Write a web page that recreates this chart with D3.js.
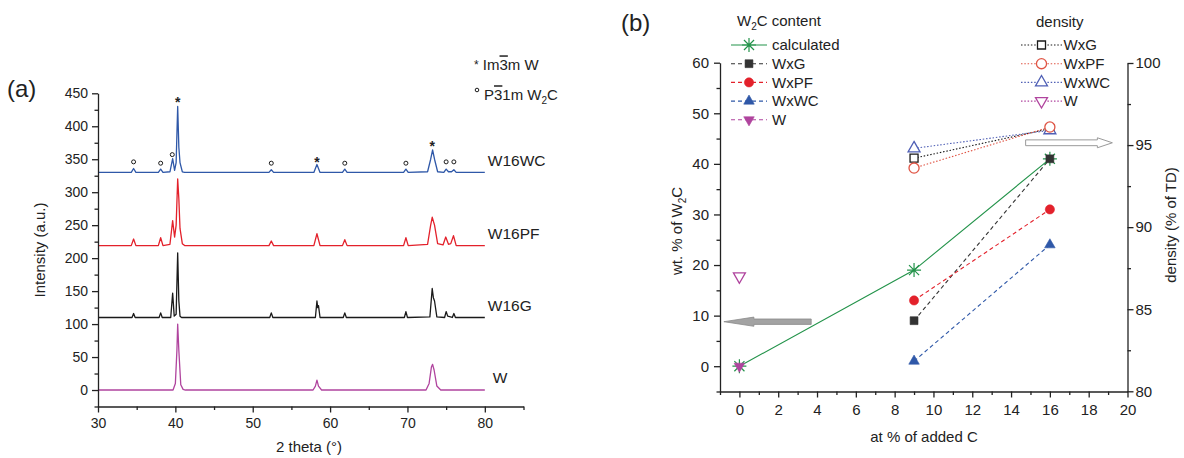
<!DOCTYPE html>
<html>
<head>
<meta charset="utf-8">
<script src="https://cdn.jsdelivr.net/npm/d3@7"></script>
<style>
  body { margin: 0; background: #fff; }
  svg { font-family: Arial, "Liberation Sans", Helvetica, sans-serif; fill: #222; }
  .axis path, .axis line { stroke: #222; stroke-width: 1.3; }
  .axis text { fill: #222; }
</style>
</head>
<body>
<div id="wrapper"></div>
<script>
// DATA (a) - XRD vertices [2 theta, intensity]
const xrdW16WC = [
  [30, 330], [34.3, 330], [34.6, 336], [34.9, 330], [37.8, 330], [38.1, 335], [38.4, 330],
  [39.3, 331], [39.65, 351], [39.9, 333], [40.1, 345], [40.3, 430], [40.45, 368], [40.6, 345],
  [40.9, 331], [41.2, 330], [52.1, 330], [52.4, 334], [52.7, 330], [57.9, 330], [58.3, 342],
  [58.7, 330], [61.6, 330], [61.9, 335], [62.2, 330], [69.5, 330], [69.8, 335], [70.1, 330],
  [72.6, 331], [73.0, 350], [73.25, 364], [73.5, 350], [73.9, 331], [74.7, 330], [75.0, 335],
  [75.3, 331], [75.7, 331], [76.0, 334], [76.3, 330], [80, 330]
];
const xrdW16PF = [
  [30, 219], [34.3, 219], [34.6, 229], [34.9, 219], [37.8, 219], [38.1, 231], [38.4, 219],
  [39.3, 221], [39.65, 257], [39.9, 232], [40.1, 250], [40.3, 320], [40.45, 290], [40.6, 245],
  [40.9, 222], [41.2, 219], [52.1, 219], [52.4, 226], [52.7, 219], [57.9, 219], [58.3, 237],
  [58.7, 219], [61.6, 219], [61.9, 228], [62.2, 219], [69.5, 219], [69.8, 231], [70.1, 219],
  [72.6, 221], [73.0, 250], [73.2, 262], [73.5, 250], [73.9, 222], [74.6, 220], [74.95, 232],
  [75.3, 221], [75.6, 222], [75.95, 234], [76.3, 219], [80, 219]
];
const xrdW16G = [
  [30, 110], [34.4, 110], [34.6, 116], [34.8, 110], [37.9, 110], [38.1, 117], [38.3, 110],
  [39.4, 110], [39.65, 147], [39.85, 112], [40.1, 115], [40.3, 208], [40.45, 135], [40.6, 112],
  [40.8, 110], [52.2, 110], [52.4, 117], [52.6, 110], [58.1, 110], [58.3, 135], [58.4, 125],
  [58.5, 128], [58.7, 110], [61.7, 110], [61.9, 117], [62.1, 110], [69.6, 110], [69.8, 119],
  [70.0, 110], [72.9, 111], [73.2, 154], [73.35, 140], [73.5, 135], [73.8, 111], [74.8, 110],
  [75.0, 119], [75.2, 112], [75.8, 110], [76.0, 116], [76.2, 110], [80, 110]
];
const xrdW = [
  [30, 0], [39.7, 0], [40.0, 10], [40.2, 60], [40.3, 100], [40.45, 60], [40.7, 8], [41.0, 1],
  [41.3, 0], [57.8, 0], [58.1, 6], [58.3, 15], [58.5, 6], [58.9, 0], [72.4, 0], [72.8, 10],
  [73.1, 35], [73.25, 39], [73.45, 30], [73.8, 6], [74.3, 0], [80, 0]
];
const xrdNames = [`W16WC`, `W16PF`, `W16G`, `W`];
const xrdBaselines = [330, 219, 110, 0];

// phase marks above peaks [2 theta, intensity]
const peaksW = [[40.3, 443], [58.3, 352], [73.2, 375]];
const peaksW2C = [[34.6, 346], [38.1, 344], [39.6, 357], [52.4, 344], [61.9, 344], [69.8, 344], [75.0, 346], [76.0, 346]];

const xTicksA = [30, 40, 50, 60, 70, 80];
const xMinorA = [35, 45, 55, 65, 75, 85];
const yTicksA = [0, 50, 100, 150, 200, 250, 300, 350, 400, 450];
const yMinorA = [-25, 25, 75, 125, 175, 225, 275, 325, 375, 425];

// DATA (b)
const addedC = [0, 9, 16];
const addedCWx = [9, 16];
const addedCW = [0];
const wtCalculated = [0, 19, 41];
const wtWxG = [9, 41];
const wtWxPF = [13, 31];
const wtWxWC = [1, 24];
const wtW = [0];
const densWxG = [94.2, 96.0];
const densWxPF = [93.6, 96.1];
const densWxWC = [94.8, 95.9];
const densW = [87.0];

const xTicksB = [0, 2, 4, 6, 8, 10, 12, 14, 16, 18, 20];
const xMinorB = [-1, 1, 3, 5, 7, 9, 11, 13, 15, 17, 19];
const yTicksBL = [0, 10, 20, 30, 40, 50, 60];
const yMinorBL = [-5, 5, 15, 25, 35, 45, 55];
const yTicksBR = [80, 85, 90, 95, 100];
const yMinorBR = [82.5, 87.5, 92.5, 97.5];

// COLORS
const C_BLUE = `#2f58a8`;
const C_RED = `#e3212b`;
const C_BLACK = `#1a1a1a`;
const C_MAGENTA = `#b0449e`;
const C_GREEN = `#23934a`;
const C_BLUE_OPEN = `#4f5fb5`;
const C_RED_OPEN = `#e05545`;
const xrdColors = [C_BLUE, C_RED, C_BLACK, C_MAGENTA];

// SVG
const svg = d3.select(`#wrapper`)
  .append(`svg`)
  .attr(`width`, 1184)
  .attr(`height`, 458);

// UTILS
const sub2 = (sel, before, after, small = 10) => {
  sel.append(`tspan`).text(before);
  sel.append(`tspan`).attr(`dy`, 4).attr(`font-size`, small).text(`2`);
  sel.append(`tspan`).attr(`dy`, -4).text(after);
};

const drawAxis = (g, axisFn, scale, major, minor, fontSize, pad) => {
  g.append(`g`).attr(`class`, `axis`)
    .call(axisFn(scale).tickValues(minor).tickSize(3.5).tickSizeOuter(0).tickFormat(``))
    .call(a => a.select(`.domain`).remove());
  g.append(`g`).attr(`class`, `axis`)
    .call(axisFn(scale).tickValues(major).tickSize(6).tickSizeOuter(0).tickPadding(pad))
    .call(a => a.selectAll(`.tick text`).attr(`font-size`, fontSize).attr(`font-family`, null));
};

const starPath = r => {
  const d = r * 0.72;
  return `M${-r},0L${r},0M0,${-r}L0,${r}M${-d},${-d}L${d},${d}M${-d},${d}L${d},${-d}`;
};

const markerPath = type => {
  if (type === `square`) return d3.symbol().type(d3.symbolSquare).size(62)();
  if (type === `circle`) return d3.symbol().type(d3.symbolCircle).size(66)();
  if (type === `triUp` || type === `triDown`) return d3.symbol().type(d3.symbolTriangle).size(48)();
  if (type === `oSquare`) return d3.symbol().type(d3.symbolSquare).size(64)();
  if (type === `oCircle`) return d3.symbol().type(d3.symbolCircle).size(80)();
  if (type === `oTriUp` || type === `oTriDown`) return d3.symbol().type(d3.symbolTriangle).size(62)();
  return starPath(7);
};

const drawMarker = (g, x, y, type, color) => {
  const open = type.startsWith(`o`);
  const isStar = type === `star`;
  const rot = type.endsWith(`Down`) ? ` rotate(180)` : ``;
  g.append(`path`)
    .attr(`d`, markerPath(type))
    .attr(`transform`, `translate(${x},${y})${rot}`)
    .attr(`fill`, open || isStar ? (open ? `#fff` : `none`) : color)
    .attr(`stroke`, color)
    .attr(`stroke-width`, isStar ? 1.2 : (open ? 1.3 : 0.6));
};

// ================= PANEL (a) =================
const xA = d3.scaleLinear().domain([30, 85]).range([98, 523.5]);
const yA = d3.scaleLinear().domain([-25, 450]).range([406.5, 93.3]);
const gA = svg.append(`g`);

const lineA = d3.line().x(d => xA(d[0])).y(d => yA(d[1]));
[xrdW16WC, xrdW16PF, xrdW16G, xrdW].forEach((pts, i) => {
  gA.append(`path`)
    .attr(`d`, lineA(pts))
    .attr(`fill`, `none`)
    .attr(`stroke`, xrdColors[i])
    .attr(`stroke-width`, 1.3)
    .attr(`stroke-linejoin`, `round`);
  gA.append(`text`)
    .attr(`x`, xA(80) + (i === 3 ? 8 : 3))
    .attr(`y`, yA(xrdBaselines[i]) - 12)
    .attr(`dy`, `0.35em`)
    .attr(`font-size`, 15.5)
    .text(xrdNames[i]);
});

gA.selectAll(`.peakW`).data(peaksW).enter()
  .append(`text`)
  .attr(`x`, d => xA(d[0]))
  .attr(`y`, d => yA(d[1]))
  .attr(`dy`, `0.62em`)
  .attr(`text-anchor`, `middle`)
  .attr(`font-size`, 14)
  .attr(`font-weight`, `bold`)
  .text(`*`);

gA.selectAll(`.peakW2C`).data(peaksW2C).enter()
  .append(`circle`)
  .attr(`cx`, d => xA(d[0]))
  .attr(`cy`, d => yA(d[1]))
  .attr(`r`, 2)
  .attr(`fill`, `none`)
  .attr(`stroke`, C_BLACK)
  .attr(`stroke-width`, 1);

drawAxis(gA.append(`g`).attr(`transform`, `translate(0,${yA(-25)})`), d3.axisBottom, xA, xTicksA, xMinorA, 14, 6);
drawAxis(gA.append(`g`).attr(`transform`, `translate(${xA(30)},0)`), d3.axisLeft, yA, yTicksA, yMinorA, 14, 4);

gA.append(`text`)
  .attr(`transform`, `translate(40,250) rotate(-90)`)
  .attr(`text-anchor`, `middle`).attr(`dy`, `0.35em`)
  .attr(`font-size`, 15)
  .text(`Intensity (a.u.)`);

gA.append(`text`)
  .attr(`x`, 309).attr(`y`, 447).attr(`dy`, `0.35em`)
  .attr(`text-anchor`, `middle`)
  .attr(`font-size`, 15)
  .text(`2 theta (°)`);

gA.append(`text`).attr(`x`, 7).attr(`y`, 89).attr(`dy`, `0.35em`).attr(`font-size`, 24).text(`(a)`);

// phase legend
const legA1 = gA.append(`text`).attr(`x`, 474).attr(`y`, 70).attr(`dy`, `0.35em`).attr(`font-size`, 15);
legA1.append(`tspan`).attr(`font-size`, 12).attr(`dy`, `-0.1em`).text(`*`);
legA1.append(`tspan`).attr(`dy`, `0.1em`).text(` Im`);
legA1.append(`tspan`).attr(`text-decoration`, `overline`).text(`3`);
legA1.append(`tspan`).text(`m W`);

gA.append(`circle`).attr(`cx`, 477).attr(`cy`, 90).attr(`r`, 1.8).attr(`fill`, `none`).attr(`stroke`, C_BLACK);
const legA2 = gA.append(`text`).attr(`x`, 484).attr(`y`, 95).attr(`dy`, `0.35em`).attr(`font-size`, 15);
legA2.append(`tspan`).text(`P`);
legA2.append(`tspan`).attr(`text-decoration`, `overline`).text(`3`);
sub2(legA2, `1m W`, `C`);

// ================= PANEL (b) =================
const xB = d3.scaleLinear().domain([-1, 20]).range([720, 1127.5]);
const yBL = d3.scaleLinear().domain([-5, 60]).range([391.5, 62.7]);
const yBR = d3.scaleLinear().domain([80, 100]).range([391.3, 63]);
const gB = svg.append(`g`);

drawAxis(gB.append(`g`).attr(`transform`, `translate(0,${yBL(-5)})`), d3.axisBottom, xB, xTicksB, xMinorB, 15, 7);
drawAxis(gB.append(`g`).attr(`transform`, `translate(${xB(-1)},0)`), d3.axisLeft, yBL, yTicksBL, yMinorBL, 15, 5);
drawAxis(gB.append(`g`).attr(`transform`, `translate(${xB(20)},0)`), d3.axisRight, yBR, yTicksBR, yMinorBR, 15, 2);

// arrows pointing at the axis each group belongs to
const leftTip = xB(-0.8), leftTail = xB(3.7), leftY = yBL(8.8);
gB.append(`path`)
  .attr(`d`, `M${leftTip},${leftY}L${leftTip + 30},${leftY - 4.6}L${leftTip + 30},${leftY - 2.7}L${leftTail},${leftY - 2.7}L${leftTail},${leftY + 2.7}L${leftTip + 30},${leftY + 2.7}L${leftTip + 30},${leftY + 4.6}Z`)
  .attr(`fill`, `#a3a3a3`).attr(`stroke`, `#8a8a8a`).attr(`stroke-width`, 0.8);

const rightTail = xB(14.75), rightTip = xB(19.22), rightY = yBR(95.14);
gB.append(`path`)
  .attr(`d`, `M${rightTip},${rightY}L${rightTip - 15},${rightY - 5}L${rightTip - 15},${rightY - 2.9}L${rightTail},${rightY - 2.9}L${rightTail},${rightY + 2.9}L${rightTip - 15},${rightY + 2.9}L${rightTip - 15},${rightY + 5}Z`)
  .attr(`fill`, `#fff`).attr(`stroke`, `#9a9a9a`).attr(`stroke-width`, 1);

const lineB = (xs, ys, yScale) => d3.line().x((d, i) => xB(xs[i])).y(d => yScale(d))(ys);

const seriesB = [
  { xs: addedCWx, ys: densWxG, scale: yBR, color: C_BLACK, dash: `1.5,1.8`, marker: `oSquare` },
  { xs: addedCWx, ys: densWxWC, scale: yBR, color: C_BLUE_OPEN, dash: `1.5,1.8`, marker: `oTriUp` },
  { xs: addedCWx, ys: densWxPF, scale: yBR, color: C_RED_OPEN, dash: `1.5,1.8`, marker: `oCircle` },
  { xs: addedCW, ys: densW, scale: yBR, color: C_MAGENTA, dash: `1.5,1.8`, marker: `oTriDown` },
  { xs: addedC, ys: wtCalculated, scale: yBL, color: C_GREEN, dash: null, marker: `star` },
  { xs: addedCWx, ys: wtWxG, scale: yBL, color: `#333`, dash: `4,3`, marker: `square` },
  { xs: addedCWx, ys: wtWxPF, scale: yBL, color: C_RED, dash: `4,3`, marker: `circle` },
  { xs: addedCWx, ys: wtWxWC, scale: yBL, color: C_BLUE, dash: `4,3`, marker: `triUp` },
  { xs: addedCW, ys: wtW, scale: yBL, color: C_MAGENTA, dash: `4,3`, marker: `triDown` }
];

seriesB.forEach(s => {
  if (s.ys.length > 1) {
    gB.append(`path`)
      .attr(`d`, lineB(s.xs, s.ys, s.scale))
      .attr(`fill`, `none`)
      .attr(`stroke`, s.color)
      .attr(`stroke-width`, 1.1)
      .attr(`stroke-dasharray`, s.dash);
  }
});
seriesB.forEach(s => {
  s.ys.forEach((v, i) => drawMarker(gB, xB(s.xs[i]), s.scale(v), s.marker, s.color));
});

// axis titles
const yLabL = gB.append(`text`)
  .attr(`transform`, `translate(677,231) rotate(-90)`)
  .attr(`text-anchor`, `middle`).attr(`dy`, `0.35em`)
  .attr(`font-size`, 15);
sub2(yLabL, `wt. % of W`, `C`);

gB.append(`text`)
  .attr(`transform`, `translate(1171,225) rotate(-90)`)
  .attr(`text-anchor`, `middle`).attr(`dy`, `0.35em`)
  .attr(`font-size`, 15)
  .text(`density (% of TD)`);

gB.append(`text`)
  .attr(`x`, 924).attr(`y`, 437).attr(`dy`, `0.35em`)
  .attr(`text-anchor`, `middle`)
  .attr(`font-size`, 15)
  .text(`at % of added C`);

gB.append(`text`).attr(`x`, 621).attr(`y`, 23).attr(`dy`, `0.35em`).attr(`font-size`, 24).text(`(b)`);

// legends
const legendWt = [
  { name: `calculated`, color: C_GREEN, dash: null, marker: `star` },
  { name: `WxG`, color: `#333`, dash: `4,3`, marker: `square` },
  { name: `WxPF`, color: C_RED, dash: `4,3`, marker: `circle` },
  { name: `WxWC`, color: C_BLUE, dash: `4,3`, marker: `triUp` },
  { name: `W`, color: C_MAGENTA, dash: `4,3`, marker: `triDown` }
];
const legendDens = [
  { name: `WxG`, color: C_BLACK, marker: `oSquare` },
  { name: `WxPF`, color: C_RED_OPEN, marker: `oCircle` },
  { name: `WxWC`, color: C_BLUE_OPEN, marker: `oTriUp` },
  { name: `W`, color: C_MAGENTA, marker: `oTriDown` }
];

const drawLegend = (items, x0, x1, xm, xt, yTop, step, dash) => {
  items.forEach((it, i) => {
    const y = yTop + i * step;
    gB.append(`line`)
      .attr(`x1`, x0).attr(`x2`, x1).attr(`y1`, y).attr(`y2`, y)
      .attr(`stroke`, it.color).attr(`stroke-width`, 1.1)
      .attr(`stroke-dasharray`, it.dash === undefined ? dash : it.dash);
    drawMarker(gB, xm, y, it.marker, it.color);
    gB.append(`text`).attr(`x`, xt).attr(`y`, y).attr(`dy`, `0.35em`).attr(`font-size`, 15).text(it.name);
  });
};

const titleWt = gB.append(`text`).attr(`x`, 737).attr(`y`, 21).attr(`dy`, `0.35em`).attr(`font-size`, 15);
sub2(titleWt, `W`, `C content`);
drawLegend(legendWt, 731, 767, 749, 772, 45, 18.7, null);

gB.append(`text`).attr(`x`, 1036).attr(`y`, 22).attr(`dy`, `0.35em`).attr(`font-size`, 15).text(`density`);
drawLegend(legendDens, 1021, 1062, 1041.5, 1063.5, 45, 18.7, `1.5,1.8`);
</script>
</body>
</html>
